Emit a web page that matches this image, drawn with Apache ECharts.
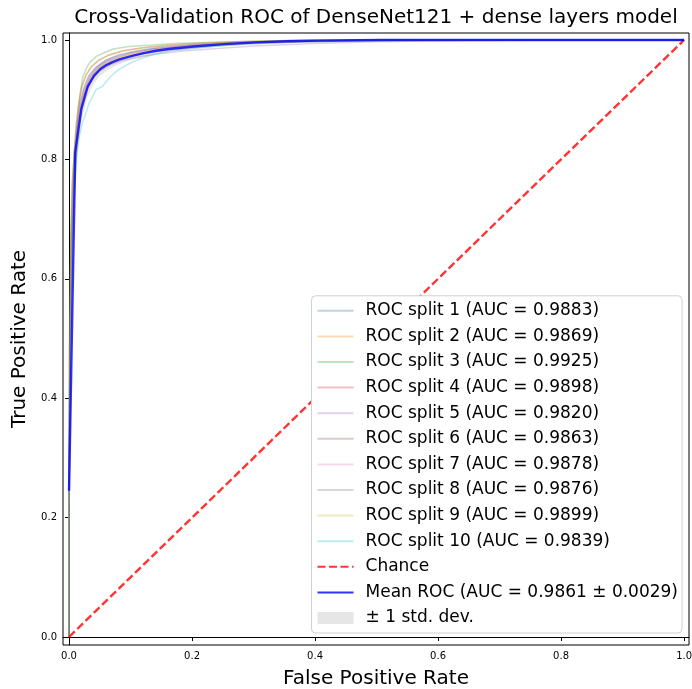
<!DOCTYPE html>
<html>
<head>
<meta charset="utf-8">
<script src="https://cdn.jsdelivr.net/npm/echarts@6/dist/echarts.min.js"></script>
<style>
  html, body { margin: 0; padding: 0; background: #fff; }
  #chart { width: 692px; height: 689px; }
</style>
</head>
<body>
<div id="chart"></div>
<script>
// ROC points [fpr, tpr], one array per split
var split1 = [[0,0],[0,0.22],[0.001,0.48],[0.003,0.66],[0.006,0.74],[0.009,0.81],[0.013,0.86],[0.018,0.895],[0.024,0.92],[0.032,0.94],[0.045,0.955],[0.06,0.966],[0.08,0.975],[0.11,0.982],[0.15,0.988],[0.2,0.992],[0.28,0.996],[0.38,0.998],[0.5,1],[1,1]];
var split2 = [[0,0],[0,0.18],[0.002,0.46],[0.004,0.62],[0.007,0.73],[0.01,0.8],[0.014,0.855],[0.019,0.89],[0.026,0.918],[0.035,0.938],[0.047,0.952],[0.062,0.962],[0.08,0.97],[0.1,0.976],[0.13,0.982],[0.17,0.987],[0.22,0.991],[0.3,0.995],[0.4,0.998],[0.52,1],[1,1]];
var split3 = [[0,0],[0,0.3],[0.001,0.52],[0.003,0.68],[0.005,0.76],[0.008,0.8],[0.012,0.84],[0.015,0.88],[0.018,0.91],[0.022,0.937],[0.028,0.952],[0.034,0.963],[0.045,0.973],[0.058,0.979],[0.072,0.985],[0.097,0.989],[0.13,0.991],[0.17,0.994],[0.23,0.996],[0.3,0.998],[0.4,1],[1,1]];
var split4 = [[0,0],[0,0.26],[0.001,0.5],[0.003,0.66],[0.006,0.76],[0.009,0.82],[0.012,0.86],[0.016,0.895],[0.021,0.922],[0.028,0.942],[0.037,0.956],[0.05,0.967],[0.066,0.975],[0.088,0.982],[0.12,0.987],[0.16,0.991],[0.21,0.994],[0.28,0.997],[0.37,0.999],[0.46,1],[1,1]];
var split5 = [[0,0],[0,0.25],[0.002,0.5],[0.004,0.64],[0.007,0.74],[0.01,0.8],[0.014,0.855],[0.02,0.89],[0.028,0.915],[0.038,0.935],[0.05,0.948],[0.065,0.958],[0.085,0.965],[0.11,0.971],[0.14,0.976],[0.18,0.981],[0.23,0.985],[0.3,0.99],[0.4,0.994],[0.5,0.997],[0.65,0.999],[0.8,1],[1,1]];
var split6 = [[0,0],[0,0.28],[0.002,0.49],[0.004,0.63],[0.007,0.72],[0.01,0.78],[0.014,0.84],[0.019,0.88],[0.026,0.91],[0.035,0.932],[0.047,0.948],[0.062,0.959],[0.08,0.967],[0.105,0.974],[0.135,0.98],[0.175,0.985],[0.23,0.99],[0.3,0.994],[0.4,0.997],[0.55,1],[1,1]];
var split7 = [[0,0],[0,0.24],[0.002,0.47],[0.004,0.64],[0.006,0.74],[0.009,0.81],[0.013,0.86],[0.018,0.893],[0.024,0.918],[0.033,0.94],[0.045,0.955],[0.06,0.965],[0.078,0.973],[0.1,0.979],[0.13,0.984],[0.17,0.989],[0.22,0.993],[0.29,0.996],[0.38,0.998],[0.5,1],[1,1]];
var split8 = [[0,0],[0,0.23],[0.002,0.48],[0.004,0.65],[0.007,0.75],[0.01,0.81],[0.014,0.855],[0.019,0.89],[0.025,0.915],[0.034,0.937],[0.046,0.953],[0.061,0.964],[0.08,0.972],[0.1,0.978],[0.13,0.984],[0.17,0.988],[0.22,0.992],[0.29,0.996],[0.39,0.998],[0.5,1],[1,1]];
var split9 = [[0,0],[0,0.29],[0.001,0.52],[0.003,0.67],[0.005,0.75],[0.008,0.81],[0.011,0.85],[0.015,0.89],[0.02,0.92],[0.027,0.94],[0.036,0.955],[0.048,0.966],[0.064,0.975],[0.085,0.981],[0.115,0.986],[0.15,0.99],[0.2,0.994],[0.27,0.997],[0.36,0.999],[0.45,1],[1,1]];
var split10 = [[0,0],[0,0.2],[0.002,0.42],[0.004,0.58],[0.007,0.7],[0.01,0.76],[0.013,0.81],[0.017,0.84],[0.022,0.862],[0.027,0.875],[0.032,0.893],[0.038,0.905],[0.044,0.917],[0.054,0.922],[0.062,0.932],[0.07,0.941],[0.08,0.95],[0.09,0.956],[0.105,0.964],[0.12,0.97],[0.14,0.976],[0.167,0.982],[0.21,0.987],[0.27,0.992],[0.35,0.996],[0.45,0.998],[0.6,1],[1,1]];
var splits = [split1, split2, split3, split4, split5, split6, split7, split8, split9, split10];
var aucs = ["0.9883", "0.9869", "0.9925", "0.9898", "0.9820", "0.9863", "0.9878", "0.9876", "0.9899", "0.9839"];

// mean ROC and its std (interpolated grid in the original)
var meanFpr = [0, 0.0101, 0.0202, 0.0303, 0.0404, 0.0505, 0.0606, 0.0707, 0.0808, 0.0909, 0.101, 0.1212, 0.1414, 0.1616, 0.202, 0.2525, 0.303, 0.3535, 0.404, 0.5051, 1.0];
var meanTpr = [0.245, 0.812, 0.885, 0.922, 0.94, 0.951, 0.958, 0.963, 0.967, 0.97, 0.973, 0.978, 0.982, 0.985, 0.989, 0.993, 0.996, 0.998, 0.999, 1.0, 1.0];
var stdTpr = [0.035, 0.03, 0.02, 0.016, 0.013, 0.011, 0.01, 0.009, 0.008, 0.007, 0.007, 0.006, 0.005, 0.004, 0.004, 0.003, 0.002, 0.002, 0.001, 0, 0];
var chance = [[0, 0], [1, 1]];

var tickValues = [0, 0.2, 0.4, 0.6, 0.8, 1.0];

var tab10 = ["#1f77b4", "#ff7f0e", "#2ca02c", "#d62728", "#9467bd", "#8c564b", "#e377c2", "#7f7f7f", "#bcbd22", "#17becf"];
var FONT = "DejaVu Sans";

var chart = echarts.init(document.getElementById("chart"));

var series = [];
var legendData = [];
splits.forEach(function (pts, i) {
  var name = "ROC split " + (i + 1) + " (AUC = " + aucs[i] + ")";
  legendData.push(name);
  series.push({
    name: name,
    type: "line",
    data: pts,
    symbol: "none",
    color: tab10[i],
    lineStyle: { width: 1.5, opacity: 0.3 },
    silent: true
  });
});

series.push({
  name: "Chance",
  type: "line",
  data: chance,
  symbol: "none",
  color: "#ff0000",
  lineStyle: { width: 2.4, opacity: 0.8, type: [8, 3.5] }
});
legendData.push("Chance");

var meanName = "Mean ROC (AUC = 0.9861 \u00b1 0.0029)";
series.push({
  name: meanName,
  type: "line",
  data: meanFpr.map(function (x, i) { return [x, meanTpr[i]]; }),
  symbol: "none",
  color: "#0000ff",
  lineStyle: { width: 2.4, opacity: 0.8 }
});
legendData.push(meanName);

// grey band mean +/- std, clipped to [0, 1]
var bandName = "\u00b1 1 std. dev.";
series.push({
  name: bandName,
  type: "custom",
  data: [[meanFpr[0], meanTpr[0]]],
  itemStyle: { color: "rgba(128,128,128,0.2)" },
  renderItem: function (params, api) {
    var upper = meanFpr.map(function (x, i) {
      return api.coord([x, Math.min(meanTpr[i] + stdTpr[i], 1)]);
    });
    var lower = meanFpr.map(function (x, i) {
      return api.coord([x, Math.max(meanTpr[i] - stdTpr[i], 0)]);
    }).reverse();
    return {
      type: "polygon",
      shape: { points: upper.concat(lower) },
      style: { fill: "rgba(128,128,128,0.2)" }
    };
  }
});
legendData.push({ name: bandName, icon: "rect", itemStyle: { opacity: 1, color: "rgba(128,128,128,0.2)" } });

var option = {
  animation: false,
  backgroundColor: "#fff",
  graphic: [{
    type: "text",
    x: 376,
    y: 18,
    style: {
      text: "Cross-Validation ROC of DenseNet121 + dense layers model",
      font: "20px " + FONT,
      fill: "#000",
      textAlign: "center",
      textVerticalAlign: "middle"
    }
  }],
  grid: {
    left: 63, right: 3, top: 33, bottom: 44,
    outerBoundsMode: "none",
    show: true, borderColor: "#000", borderWidth: 1
  },
  legend: {
    orient: "vertical",
    right: 10,
    bottom: 56,
    data: legendData,
    itemWidth: 36,
    itemHeight: 12,
    itemGap: 5.6,
    padding: [5, 4, 5, 5],
    backgroundColor: "#fff",
    borderColor: "#d0d0d0",
    borderWidth: 1,
    borderRadius: 4,
    selectedMode: false,
    itemStyle: { opacity: 0 },
    textStyle: { fontFamily: FONT, fontSize: 17, color: "#000", lineHeight: 20, padding: [0, 0, 0, 7] }
  },
  xAxis: {
    type: "value",
    min: -0.0098,
    max: 1.008,
    name: "False Positive Rate",
    nameLocation: "middle",
    nameGap: 24,
    nameTextStyle: { fontFamily: FONT, fontSize: 20, color: "#000" },
    axisLine: { show: true, lineStyle: { color: "#000", width: 1 } },
    axisTick: { show: true, length: 4, customValues: tickValues, lineStyle: { color: "#000" } },
    axisLabel: {
      customValues: tickValues,
      fontFamily: FONT, fontSize: 10, color: "#000", margin: 6,
      formatter: function (v) { return v.toFixed(1); }
    },
    splitLine: { show: false }
  },
  yAxis: {
    type: "value",
    min: -0.0134,
    max: 1.0117,
    name: "True Positive Rate",
    nameLocation: "middle",
    nameGap: 27,
    nameTextStyle: { fontFamily: FONT, fontSize: 20, color: "#000" },
    axisLine: { show: true, lineStyle: { color: "#000", width: 1 } },
    axisTick: { show: true, length: 4, customValues: tickValues, lineStyle: { color: "#000" } },
    axisLabel: {
      customValues: tickValues,
      fontFamily: FONT, fontSize: 10, color: "#000", margin: 6,
      formatter: function (v) { return v.toFixed(1); }
    },
    splitLine: { show: false }
  },
  series: series
};

chart.setOption(option);
</script>
</body>
</html>
